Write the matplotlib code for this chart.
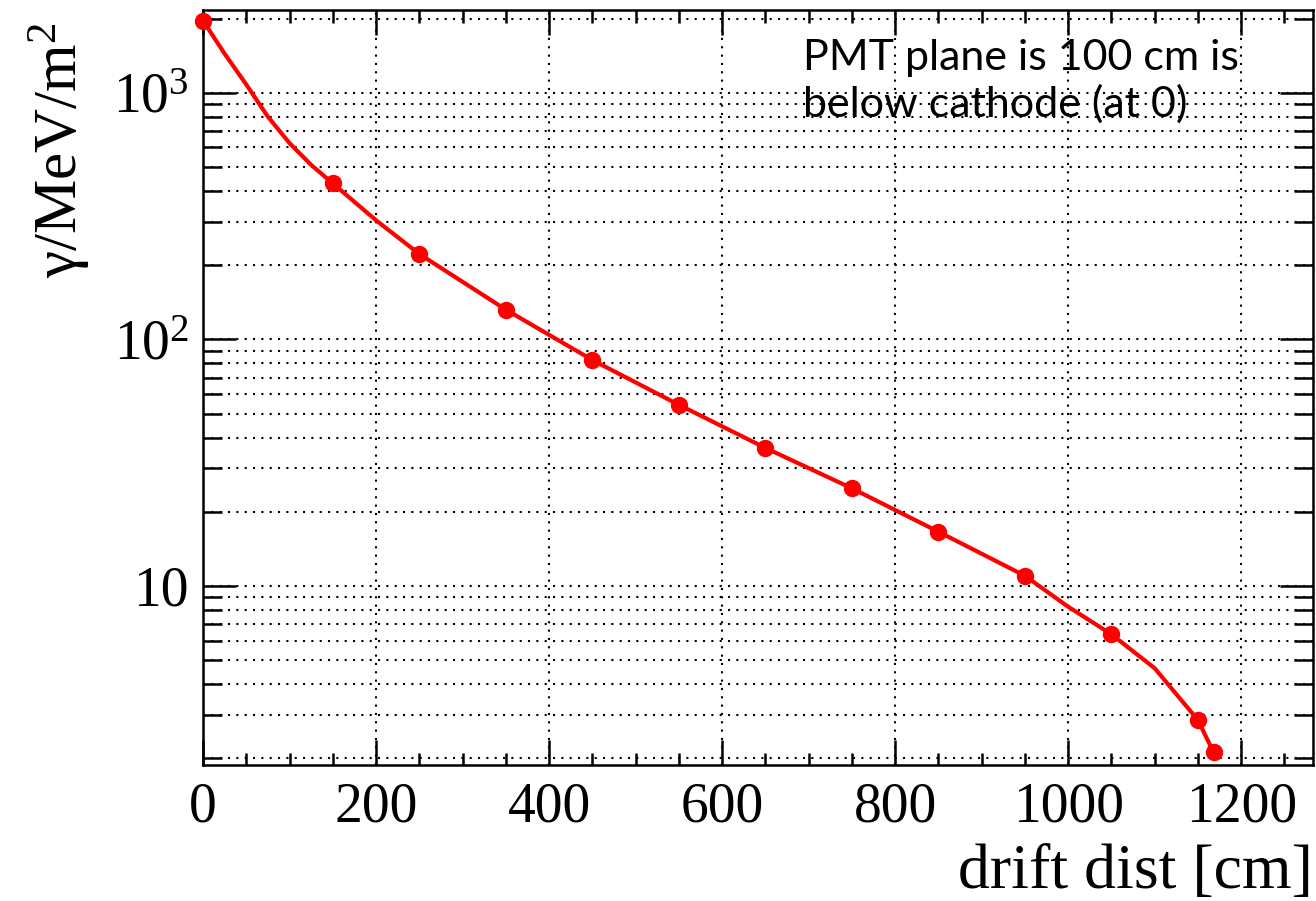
import matplotlib
matplotlib.use("Agg")
import matplotlib.pyplot as plt
from matplotlib.ticker import FixedLocator, FixedFormatter, MultipleLocator, LogLocator, NullFormatter

# measured points (markers)
marker_x = [0, 150, 250, 350, 450, 550, 650, 750, 850, 950, 1050, 1150, 1168]
marker_y = [1960, 429, 222, 132, 82.5, 54.3, 36.3, 24.9, 16.6, 11.0, 6.37, 2.86, 2.12]

# smooth curve
line_x = [0, 25, 50, 75, 100, 125, 150, 200, 250, 350, 450, 550, 650, 750, 850, 950, 1000, 1050, 1100, 1150, 1168]
line_y = [1960, 1440, 1080, 800, 625, 510, 429, 304, 222, 132, 82.5, 54.3, 36.3, 24.9, 16.6, 11.0, 8.24, 6.37, 4.64, 2.86, 2.12]

y_major = [10, 100, 1000]
y_major_labels = ['10', '$10^{2}$', '$10^{3}$']
x_major = [0, 200, 400, 600, 800, 1000, 1200]

plt.rcParams['font.family'] = 'Liberation Serif'
plt.rcParams['mathtext.fontset'] = 'custom'
plt.rcParams['mathtext.rm'] = 'Liberation Serif'
plt.rcParams['mathtext.it'] = 'Liberation Serif:italic'

W, H = 1316, 901
fig = plt.figure(figsize=(W / 100, H / 100), dpi=100)
left, right, top, bottom = 203, 1313, 10, 765
ax = fig.add_axes([left / W, 1 - bottom / H, (right - left) / W, (bottom - top) / H])

ax.set_yscale('log')
ax.set_xlim(0, 1283)
ax.set_ylim(1.88, 2166)

ax.plot(line_x, line_y, color='red', lw=3, solid_capstyle='round', solid_joinstyle='round', zorder=3)
ax.plot(marker_x, marker_y, 'o', color='red', ms=11.5, zorder=4, clip_on=False)

# ticks, ROOT style
ax.xaxis.set_major_locator(FixedLocator(x_major))
ax.xaxis.set_minor_locator(MultipleLocator(50))
ax.yaxis.set_major_locator(FixedLocator(y_major))
ax.yaxis.set_major_formatter(FixedFormatter(y_major_labels))
ax.yaxis.set_minor_locator(LogLocator(base=10, subs=range(2, 10)))
ax.yaxis.set_minor_formatter(NullFormatter())

ax.tick_params(which='both', direction='in', top=True, right=True, width=1.8, labelsize=40)
ax.tick_params(axis='x', which='major', length=18, pad=12)
ax.tick_params(axis='x', which='minor', length=9)
ax.tick_params(axis='y', which='major', length=24, pad=10)
ax.tick_params(axis='y', which='minor', length=14)

for s in ax.spines.values():
    s.set_linewidth(1.8)

dot = (0, (1, 3))
ax.grid(True, axis='x', which='major', color='black', linestyle=dot, lw=1.5)
ax.grid(True, axis='y', which='both', color='black', linestyle=dot, lw=1.5)
ax.set_axisbelow(True)

ax.set_xlabel('drift dist [cm]', fontsize=46, loc='right')
ax.xaxis.set_label_coords(1.0, -0.105)
ax.set_ylabel('γ/MeV/m$^{2}$', fontsize=44, loc='top')
ax.yaxis.set_label_coords(-0.10, 0.984)

ax.text(0.5405, 0.962, 'PMT plane is 100 cm is\nbelow cathode (at 0)',
        transform=ax.transAxes, fontsize=31, family='Lato',
        ha='left', va='top', linespacing=1.22)

fig.savefig('out.png', dpi=100)
